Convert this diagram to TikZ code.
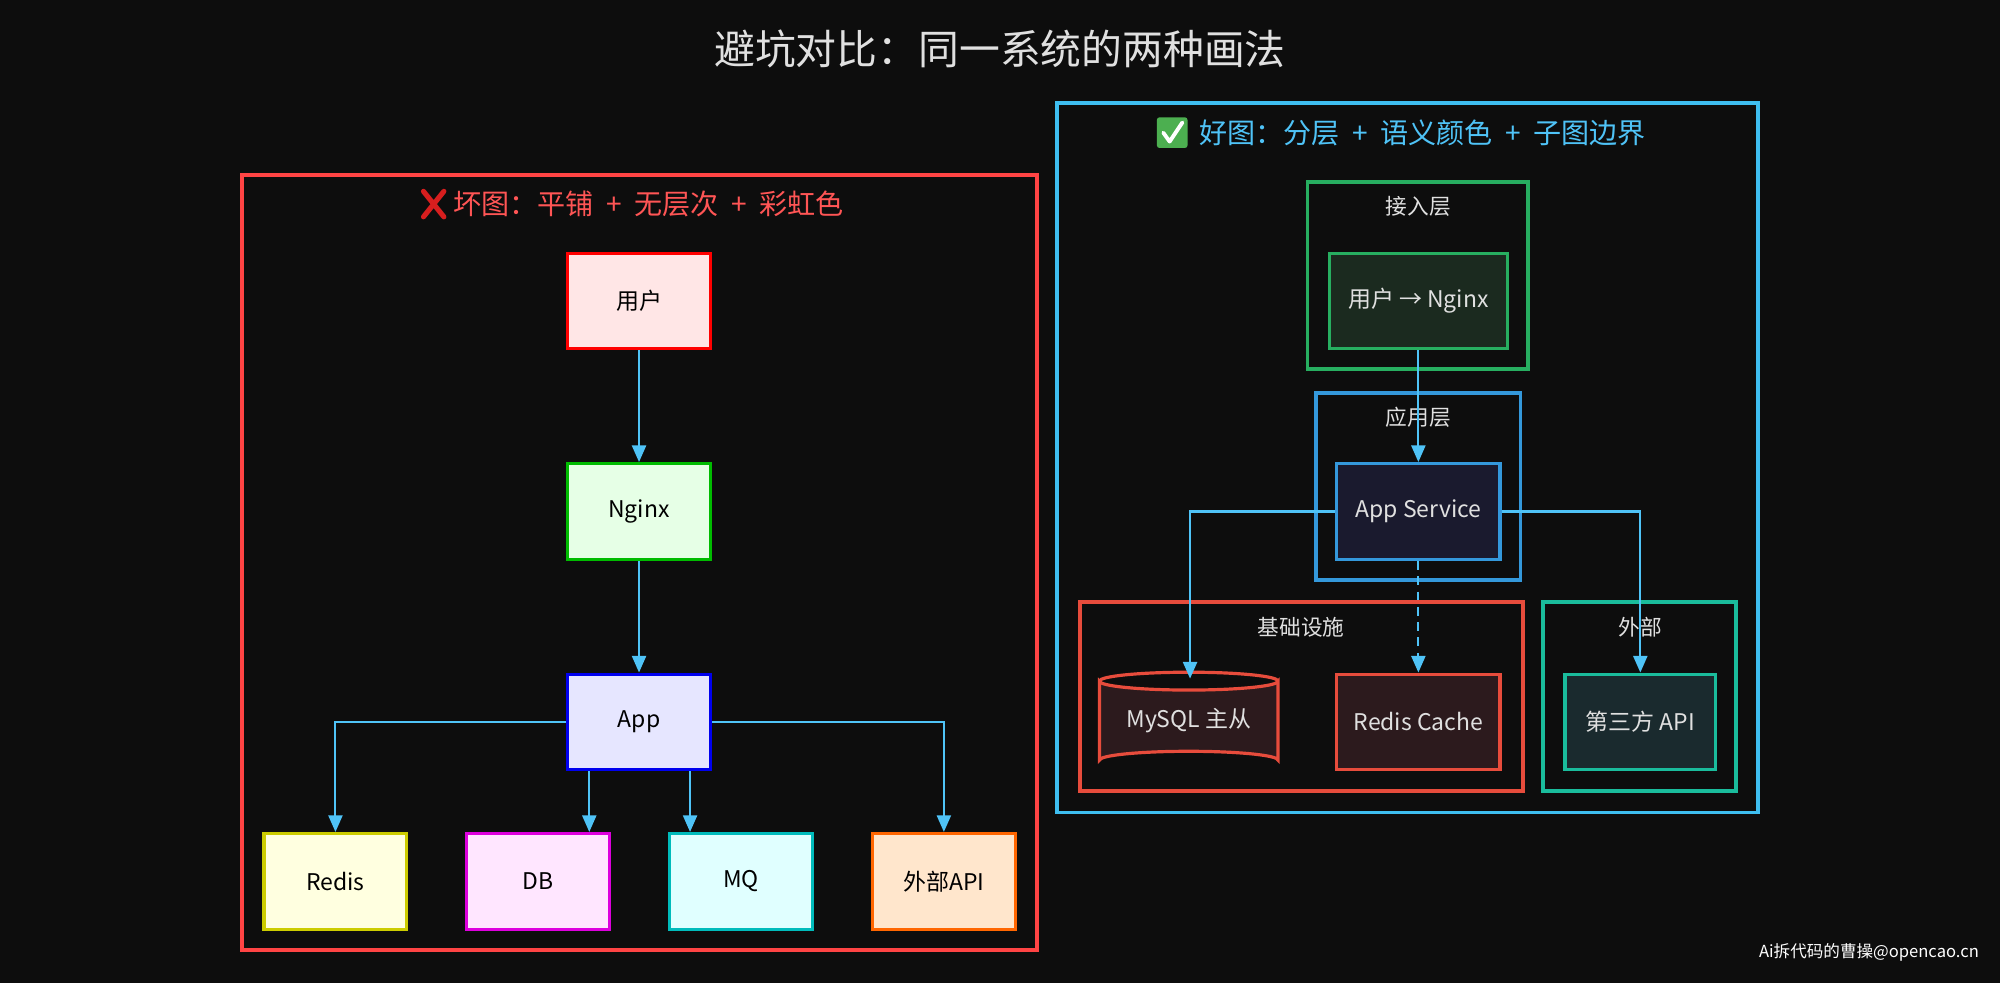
\documentclass[tikz,border=0pt]{standalone}
\usepackage{fontspec}
\setmainfont{Noto Sans CJK SC}
\usetikzlibrary{arrows.meta}
\definecolor{bg}{HTML}{0D0D0D}
\definecolor{edge}{HTML}{4FC3F7}
\definecolor{lbl}{HTML}{E0E0E0}
\definecolor{lpan}{HTML}{FF4444}
\definecolor{ltxt}{HTML}{FF5555}
\definecolor{xred}{HTML}{D71E1E}
\definecolor{b1}{HTML}{FF0000}\definecolor{f1}{HTML}{FFE6E6}
\definecolor{b2}{HTML}{00BB00}\definecolor{f2}{HTML}{E6FFE6}
\definecolor{b3}{HTML}{0000EE}\definecolor{f3}{HTML}{E6E6FF}
\definecolor{b4}{HTML}{CCCC00}\definecolor{f4}{HTML}{FFFFE0}
\definecolor{b5}{HTML}{DD00DD}\definecolor{f5}{HTML}{FFE6FF}
\definecolor{b6}{HTML}{00BBBB}\definecolor{f6}{HTML}{E0FFFF}
\definecolor{b7}{HTML}{FF6600}\definecolor{f7}{HTML}{FFE6CC}
\definecolor{rpan}{HTML}{3EBEF0}
\definecolor{chk}{HTML}{4CAF50}
\definecolor{gA}{HTML}{27AE60}\definecolor{fA}{HTML}{1B2A1F}
\definecolor{gB}{HTML}{3498DB}\definecolor{fB}{HTML}{1A1A2E}
\definecolor{gC}{HTML}{E74C3C}\definecolor{fC}{HTML}{2C1A1D}
\definecolor{gD}{HTML}{1ABC9C}\definecolor{fD}{HTML}{1A2A2E}
\begin{document}
\begin{tikzpicture}[x=1pt,y=-1pt,
  fs/.style={font=\fontsize{#1}{#1}\selectfont},
  bad/.style 2 args={draw=#1,fill=#2,line width=2.5pt,minimum width=112pt,minimum height=75pt,inner sep=0pt,text=black,fs=18},
  good/.style 2 args={draw=#1,fill=#2,line width=2.5pt,minimum height=75pt,inner sep=0pt,text=lbl,fs=18},
  grp/.style={line width=3pt},
  glbl/.style={text=lbl,fs=17},
  arr/.style={draw=edge,line width=1.6pt,-{Stealth[length=13pt,width=11pt,inset=0pt]}}]
\fill[bg] (0,0) rectangle (1568,771);
\useasboundingbox (0,0) rectangle (1568,771);
\node[text=lbl,fs=32] (title) at (784,38) {避坑对比：同一系统的两种画法};
% ---- left panel
\draw[grp,draw=lpan] (190,137) rectangle (813,745);
\node[text=ltxt,fs=22,anchor=west] (lt) at (352,160) {坏图：平铺 \ + \ 无层次 \ + \ 彩虹色};
\draw[line width=4pt,line cap=round,draw=xred] (332,150)--(348,170) (348,150)--(332,170);
\node[bad={b1}{f1}] (u) at (501,236) {用户};
\node[bad={b2}{f2}] (n) at (501,401) {Nginx};
\node[bad={b3}{f3}] (a) at (501,566) {App};
\node[bad={b4}{f4}] (r) at (263,691) {Redis};
\node[bad={b5}{f5}] (db) at (422,691) {DB};
\node[bad={b6}{f6}] (mq) at (581,691) {MQ};
\node[bad={b7}{f7}] (ext) at (740,691) {外部API};
\draw[arr] (u) -- (n);
\draw[arr] (n) -- (a);
\draw[arr] (a.west) -| (r.north);
\draw[arr] ([xshift=-39pt]a.south) -- ([xshift=40pt]db.north);
\draw[arr] ([xshift=40pt]a.south) -- ([xshift=-40pt]mq.north);
\draw[arr] (a.east) -| (ext.north);
% ---- right panel
\draw[grp,draw=rpan] (829,81) rectangle (1378,637);
\node[text=edge,fs=22,anchor=west] (rt) at (937,104) {好图：分层 \ + \ 语义颜色 \ + \ 子图边界};
\fill[chk,rounded corners=2pt] (907,92) rectangle (931,116);
\draw[white,line width=3pt,line cap=round,line join=round] (912,104)--(917,111)--(927,96);
\draw[grp,draw=gA] (1025,143) rectangle (1198,289);
\node[glbl] (g1) at (1112,162) {接入层};
\node[good={gA}{fA},minimum width=140pt] (un) at (1112,236) {用户 → Nginx};
\draw[grp,draw=gB] (1032,308) rectangle (1192,455);
\node[glbl] (g2) at (1112,327) {应用层};
\node[good={gB}{fB},minimum width=128pt] (as) at (1112,401) {App Service};
\draw[grp,draw=gC] (847,472) rectangle (1194,620);
\node[glbl] (g3) at (1020,492) {基础设施};
\draw[grp,draw=gD] (1210,472) rectangle (1361,620);
\node[glbl] (g4) at (1286,492) {外部};
% cylinder
\begin{scope}[draw=gC,line width=2.5pt]
\filldraw[fill=fC] (862,534) -- (862,596) arc[start angle=180,end angle=360,x radius=70,y radius=7] -- (1002,534) arc[start angle=0,end angle=180,x radius=70,y radius=7] -- cycle;
\draw (862,534) arc[start angle=180,end angle=360,x radius=70,y radius=7];
\end{scope}
\node[text=lbl,fs=18,minimum width=140pt,minimum height=76pt,inner sep=0pt] (my) at (932,565) {MySQL 主从};
\coordinate (mytop) at (933,532);
\node[good={gC}{fC},minimum width=128pt] (rc) at (1112,566) {Redis Cache};
\node[good={gD}{fD},minimum width=118pt] (api) at (1286,566) {第三方 API};
\draw[arr] (un) -- (as);
\draw[arr] (as.west) -| (mytop);
\draw[arr,dash pattern=on 7pt off 5pt] (as) -- (rc);
\draw[arr] (as.east) -| (api.north);
\node[text=white,fs=13,anchor=east] (ft) at (1555,747) {Ai拆代码的曹操@opencao.cn};
\end{tikzpicture}
\end{document}
